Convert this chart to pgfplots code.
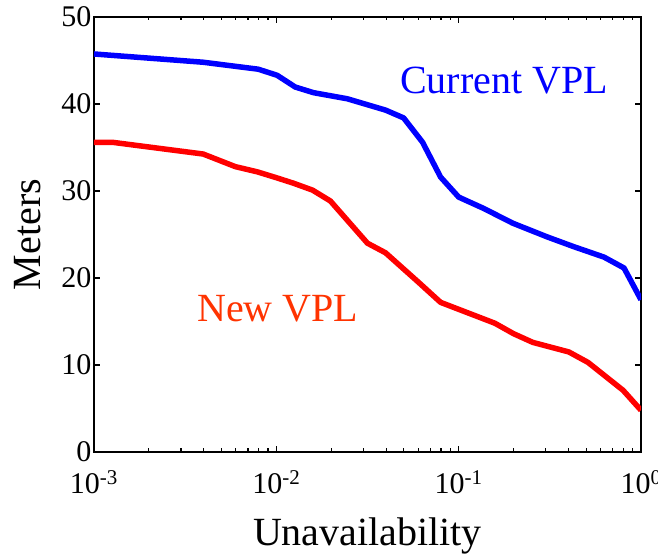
\documentclass[border=0pt]{standalone}
\usepackage{pgfplots}
\pgfplotsset{compat=1.18}
\usepackage{fontspec}
\setmainfont{Liberation Serif}
\definecolor{curblue}{RGB}{0,0,255}
\definecolor{newred}{RGB}{255,0,0}
\definecolor{newtext}{RGB}{255,51,0}
\begin{document}
\begin{tikzpicture}
\useasboundingbox (-94pt,-107pt) rectangle (564pt,452pt);
\begin{axis}[
  anchor=south west, at={(0pt,0pt)},
  scale only axis, width=547pt, height=435pt,
  xmode=log, xmin=0.001, xmax=1, ymin=0, ymax=50,
  xtick={0.001,0.01,0.1,1},
  xticklabels={10\textsuperscript{-3},10\textsuperscript{-2},10\textsuperscript{-1},10\textsuperscript{0}},
  ytick={0,10,20,30,40,50},
  /pgf/number format/assume math mode=true,
  tick label style={font=\fontsize{30}{32}\selectfont},
  xticklabel style={yshift=-15pt},
  yticklabel style={xshift=1pt},
  axis line style={line width=1.8pt},
  major tick length=6pt, minor tick length=3.5pt,
  every tick/.style={black, line width=1.2pt},
  xlabel={Unavailability}, ylabel={Meters},
  label style={font=\fontsize{40}{44}\selectfont},
  xlabel style={at={(axis description cs:0.5,-0.216)}, anchor=base},
  ylabel style={at={(axis description cs:-0.0987,0.5)}, anchor=base, rotate=0},
  clip=true,
]
\addplot[curblue, line width=5.5pt, line join=round] table {
x y
0.001 45.75
0.00397 44.8
0.00796 44.0
0.0101 43.3
0.0127 41.95
0.0160 41.3
0.0245 40.6
0.0397 39.3
0.0499 38.4
0.0634 35.6
0.0796 31.6
0.1 29.3
0.137 28.0
0.198 26.3
0.308 24.7
0.428 23.6
0.627 22.4
0.807 21.15
1 17.5
};
\addplot[newred, line width=5.5pt, line join=round] table {
x y
0.001 35.6
0.00126 35.6
0.00397 34.25
0.00596 32.8
0.00787 32.2
0.0101 31.5
0.0124 30.9
0.0158 30.1
0.0198 28.85
0.0316 24.0
0.0397 22.9
0.0603 19.5
0.0796 17.2
0.158 14.8
0.2 13.6
0.255 12.6
0.402 11.5
0.512 10.3
0.797 7.1
1 4.8
};
\node[anchor=base west, inner sep=0pt, text=curblue, font=\fontsize{40}{44}\selectfont] at (rel axis cs:0.5594,0.823) {Current VPL};
\node[anchor=base west, inner sep=0pt, text=newtext, font=\fontsize{40}{44}\selectfont] at (rel axis cs:0.1883,0.2989) {New VPL};
\end{axis}
\end{tikzpicture}
\end{document}
